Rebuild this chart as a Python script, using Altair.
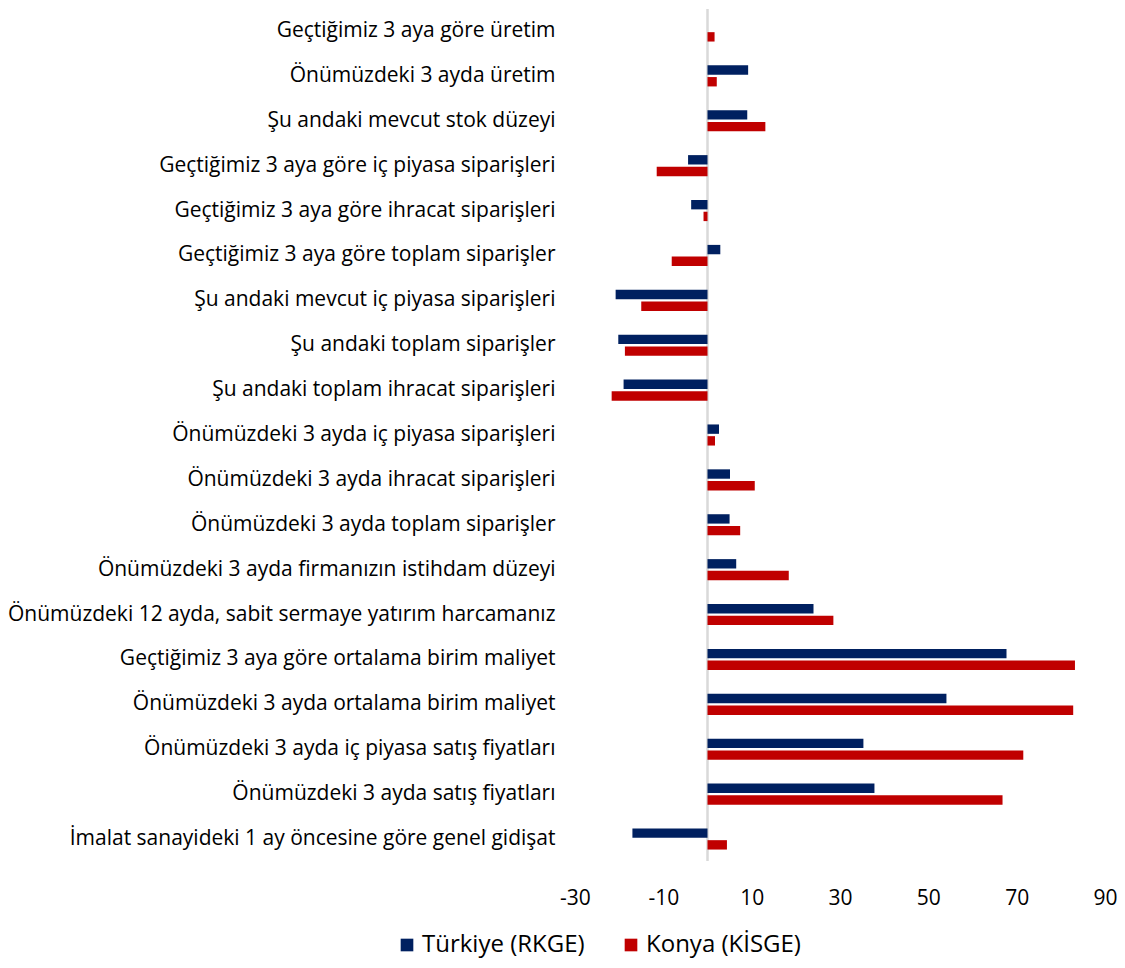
import altair as alt
import pandas as pd

categories = [
    "Geçtiğimiz 3 aya göre üretim",
    "Önümüzdeki 3 ayda üretim",
    "Şu andaki mevcut stok düzeyi",
    "Geçtiğimiz 3 aya göre iç piyasa siparişleri",
    "Geçtiğimiz 3 aya göre ihracat siparişleri",
    "Geçtiğimiz 3 aya göre toplam siparişler",
    "Şu andaki mevcut iç piyasa siparişleri",
    "Şu andaki toplam siparişler",
    "Şu andaki toplam ihracat siparişleri",
    "Önümüzdeki 3 ayda iç piyasa siparişleri",
    "Önümüzdeki 3 ayda ihracat siparişleri",
    "Önümüzdeki 3 ayda toplam siparişler",
    "Önümüzdeki 3 ayda firmanızın istihdam düzeyi",
    "Önümüzdeki 12 ayda, sabit sermaye yatırım harcamanız",
    "Geçtiğimiz 3 aya göre ortalama birim maliyet",
    "Önümüzdeki 3 ayda ortalama birim maliyet",
    "Önümüzdeki 3 ayda iç piyasa satış fiyatları",
    "Önümüzdeki 3 ayda satış fiyatları",
    "İmalat sanayideki 1 ay öncesine göre genel gidişat",
]

turkiye = [0.0, 9.2, 9.0, -4.4, -3.7, 2.9, -20.8, -20.2, -19.0, 2.6, 5.1, 5.0,
           6.5, 24.0, 67.7, 54.1, 35.3, 37.8, -17.0]
konya = [1.6, 2.1, 13.1, -11.5, -0.9, -8.1, -15.0, -18.7, -21.7, 1.7, 10.7, 7.4,
         18.4, 28.5, 83.2, 82.8, 71.5, 66.8, 4.4]

series_names = ["Türkiye (RKGE)", "Konya (KİSGE)"]
series_colors = ["#002060", "#C00000"]
x_ticks = [-30, -10, 10, 30, 50, 70, 90]

rows = []
for c, t, k in zip(categories, turkiye, konya):
    rows.append({"kategori": c, "seri": series_names[0], "deger": t})
    rows.append({"kategori": c, "seri": series_names[1], "deger": k})
df = pd.DataFrame(rows)

FONT = "Open Sans"

xscale = alt.Scale(domain=[-30, 90], nice=False, zero=False)

zero_line = alt.Chart(pd.DataFrame({"z": [0]})).mark_rule(
    color="#d9d9d9", strokeWidth=2.5
).encode(x=alt.X("z:Q", scale=xscale))

bars = alt.Chart(df).mark_bar().encode(
    x=alt.X(
        "deger:Q",
        scale=xscale,
        axis=alt.Axis(
            values=x_ticks, title=None, grid=False, domain=False, ticks=False,
            labelFont=FONT, labelFontSize=21, labelColor="#000000",
            labelPadding=26, labelExpr="datum.value + ''", labelFlush=False,
        ),
    ),
    y=alt.Y(
        "kategori:N",
        sort=categories,
        scale=alt.Scale(paddingInner=0.53, paddingOuter=0.255),
        axis=alt.Axis(
            title=None, domain=False, ticks=False, labelFont=FONT,
            labelFontSize=21, labelColor="#000000", labelPadding=20,
            labelLimit=800,
        ),
    ),
    yOffset=alt.YOffset(
        "seri:N", sort=series_names, scale=alt.Scale(paddingInner=0.2)
    ),
    color=alt.Color(
        "seri:N",
        sort=series_names,
        scale=alt.Scale(domain=series_names, range=series_colors),
        legend=alt.Legend(
            title=None, orient="none", direction="horizontal",
            legendX=-180, legendY=924, symbolType="square", symbolSize=160,
            labelFont=FONT, labelFontSize=24, labelColor="#000000",
            columnPadding=34, symbolStrokeWidth=0, labelOffset=3,
            labelLimit=400,
        ),
    ),
)

chart = alt.layer(zero_line, bars).properties(
    width=530, height=852,
    autosize=alt.AutoSizeParams(type="none"),
    padding={"left": 567, "top": 1, "right": 12, "bottom": 100},
).configure_view(stroke=None)

chart.save("out.html", embed_options={"renderer": "svg", "actions": False})
